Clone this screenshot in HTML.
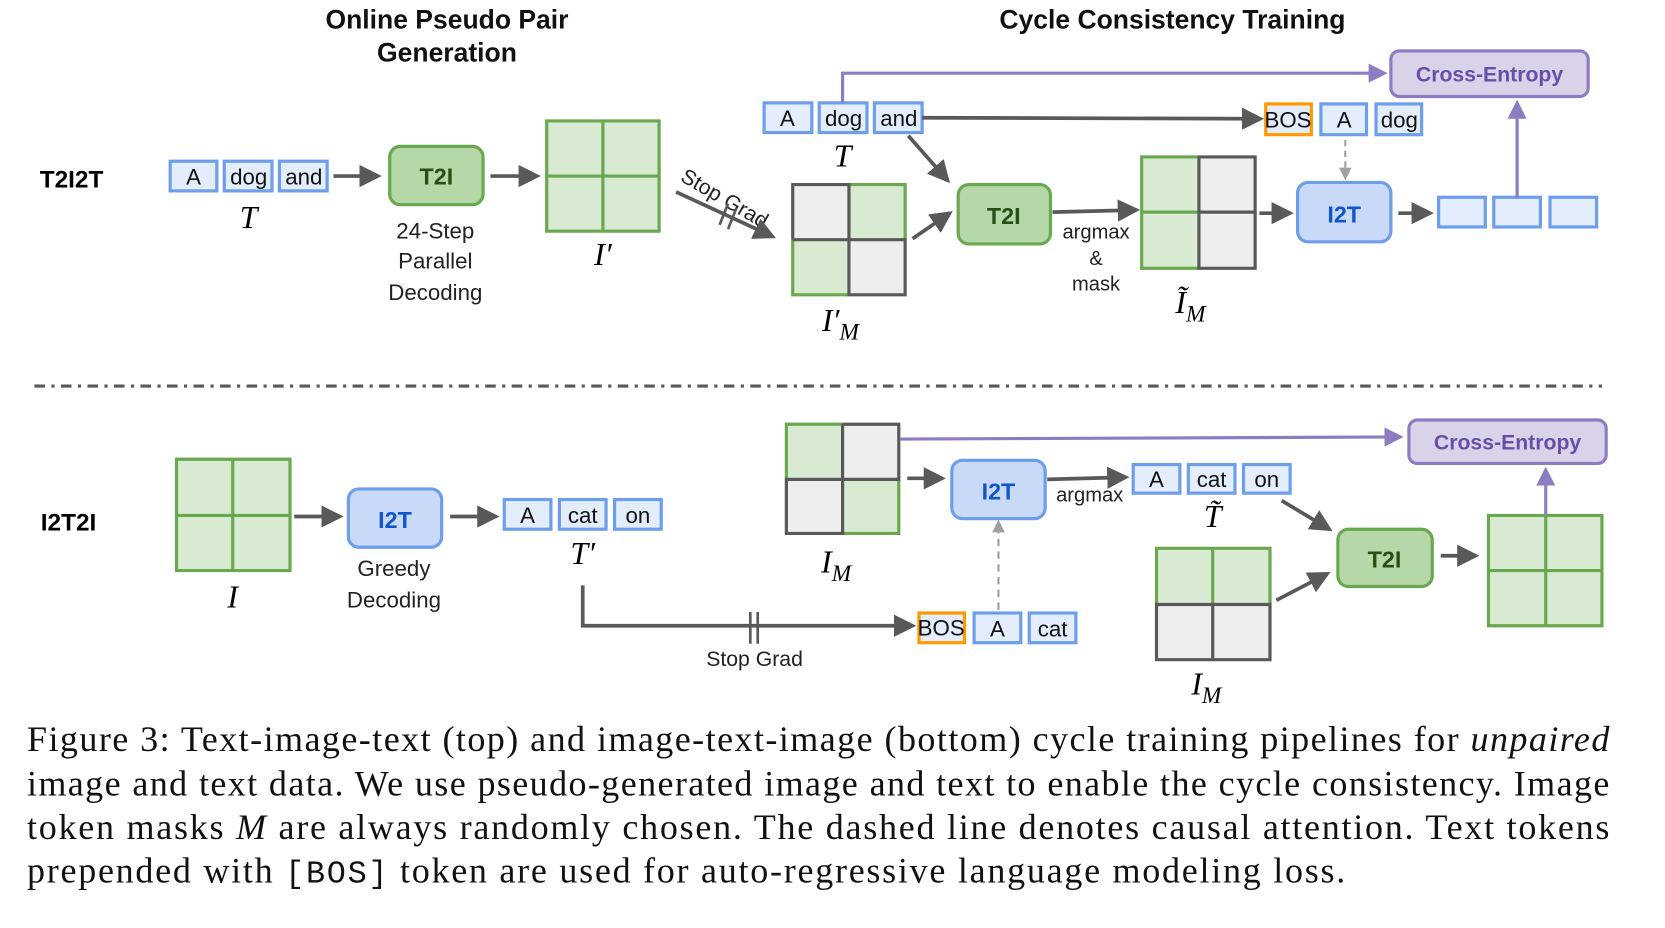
<!DOCTYPE html>
<html><head><meta charset="utf-8"><style>
html,body{margin:0;padding:0;background:#fff;width:1665px;height:928px;overflow:hidden}
svg{display:block}
.s{font-family:"Liberation Sans",sans-serif}
.m{font-family:"Liberation Serif",serif;font-style:italic}
.tk{fill:#e3edfb;stroke:#6d9eeb;stroke-width:3}
.bos{fill:#e3edfb;stroke:#ff9900;stroke-width:3}
.tt{font-family:"Liberation Sans",sans-serif;font-size:21px;fill:#111;text-anchor:middle}
.g{fill:#d9ead3}.y{fill:#eeeeee}
.ar{stroke:#595959;stroke-width:3.5;fill:none}
.pu{stroke:#8e7cc3;stroke-width:3;fill:none}
</style></head><body>
<svg width="1665" height="928" viewBox="0 0 1569 875" xmlns="http://www.w3.org/2000/svg">
<defs>
<marker id="a" markerWidth="6" markerHeight="6" refX="5" refY="3" orient="auto" markerUnits="strokeWidth"><path d="M0,0 L6,3 L0,6 z" fill="#595959"/></marker>
<marker id="p" markerWidth="6" markerHeight="6" refX="5" refY="3" orient="auto" markerUnits="strokeWidth"><path d="M0,0 L6,3 L0,6 z" fill="#8e7cc3"/></marker>
<marker id="d" markerWidth="6" markerHeight="6" refX="5" refY="3" orient="auto" markerUnits="strokeWidth"><path d="M0,0 L6,3 L0,6 z" fill="#a0a0a0"/></marker>
</defs>
<g class="s" font-weight="bold" font-size="25" text-anchor="middle" fill="#111">
<text x="421" y="27">Online Pseudo Pair</text>
<text x="421" y="58">Generation</text>
<text x="1105" y="27">Cycle Consistency Training</text>
</g>
<text class="s" x="37" y="177" font-size="23" font-weight="bold">T2I2T</text>
<text class="s" x="38" y="500" font-size="23" font-weight="bold">I2T2I</text>

<!-- top row -->
<rect class="tk" x="160" y="152" width="44" height="28"/><text class="tt" x="182" y="174">A</text>
<rect class="tk" x="211" y="152" width="45" height="28"/><text class="tt" x="234" y="174">dog</text>
<rect class="tk" x="263" y="152" width="45" height="28"/><text class="tt" x="286" y="174">and</text>
<text class="m" x="234" y="215" font-size="30" text-anchor="middle">T</text>
<line class="ar" x1="314" y1="166" x2="356" y2="166" marker-end="url(#a)"/>
<rect x="367" y="138" width="88" height="55" rx="10" fill="#b6d7a8" stroke="#6aa84f" stroke-width="3"/>
<text class="s" x="411" y="174" font-size="22" font-weight="bold" fill="#274e13" text-anchor="middle">T2I</text>
<g class="s" font-size="21" text-anchor="middle" fill="#222"><text x="410" y="225">24-Step</text><text x="410" y="253">Parallel</text><text x="410" y="283">Decoding</text></g>
<line class="ar" x1="462" y1="166" x2="506" y2="166" marker-end="url(#a)"/>
<g><rect class="g" x="515" y="114" width="106" height="104"/><path d="M515,114h106v104h-106z M568,114v104 M515,166h106" stroke="#6aa84f" stroke-width="3" fill="none"/></g>
<text class="m" x="568" y="250" font-size="30" text-anchor="middle">I′</text>
<text class="s" x="640" y="170" font-size="20" transform="rotate(30 640 170)" fill="#222">Stop Grad</text>
<line class="ar" x1="637" y1="181" x2="728" y2="223" marker-end="url(#a)"/>
<path d="M678,212 L686,192 M686,216 L694,196" stroke="#595959" stroke-width="2.5"/>
<!-- I'_M -->
<rect class="y" x="747" y="174" width="53" height="52"/><rect class="g" x="800" y="174" width="53" height="52"/>
<rect class="g" x="747" y="226" width="53" height="52"/><rect class="y" x="800" y="226" width="53" height="52"/>
<path d="M800,174h53v52 M747,226v52h53" stroke="#6aa84f" stroke-width="3" fill="none"/>
<path d="M747,226v-52h53v104h53v-52h-106" stroke="#595959" stroke-width="3" fill="none"/>
<text class="m" x="792" y="312" font-size="30" text-anchor="middle">I′<tspan font-size="22" dy="8">M</tspan></text>
<line class="ar" x1="860" y1="225" x2="895" y2="201" marker-end="url(#a)"/>
<!-- top T tokens -->
<rect class="tk" x="720" y="97" width="45" height="28"/><text class="tt" x="742" y="119">A</text>
<rect class="tk" x="772" y="97" width="45" height="28"/><text class="tt" x="795" y="119">dog</text>
<rect class="tk" x="824" y="97" width="45" height="28"/><text class="tt" x="847" y="119">and</text>
<text class="m" x="794" y="157" font-size="30" text-anchor="middle">T</text>
<path class="pu" d="M794,97 V69 H1305" marker-end="url(#p)"/>
<rect x="1311" y="48" width="186" height="43" rx="8" fill="#d9d2e9" stroke="#8e7cc3" stroke-width="3"/>
<text class="s" x="1404" y="77" font-size="20" font-weight="bold" fill="#674ea7" text-anchor="middle">Cross-Entropy</text>
<line class="ar" x1="869" y1="111" x2="1188" y2="112" marker-end="url(#a)"/>
<rect class="bos" x="1193" y="98" width="43" height="29"/><text class="tt" x="1214" y="120" font-size="18">BOS</text>
<rect class="tk" x="1245" y="98" width="43" height="29"/><text class="tt" x="1267" y="120">A</text>
<rect class="tk" x="1297" y="98" width="43" height="29"/><text class="tt" x="1319" y="120">dog</text>
<line class="ar" x1="856" y1="128" x2="893" y2="170" marker-end="url(#a)"/>
<rect x="903" y="174" width="87" height="56" rx="10" fill="#b6d7a8" stroke="#6aa84f" stroke-width="3"/>
<text class="s" x="946" y="211" font-size="22" font-weight="bold" fill="#274e13" text-anchor="middle">T2I</text>
<line class="ar" x1="992" y1="200" x2="1071" y2="198" marker-end="url(#a)"/>
<g class="s" font-size="19" text-anchor="middle" fill="#222"><text x="1033" y="225">argmax</text><text x="1033" y="250">&amp;</text><text x="1033" y="274">mask</text></g>
<rect class="g" x="1076" y="148" width="54" height="105"/><rect class="y" x="1130" y="148" width="53" height="105"/>
<path d="M1130,148h-54v105h54 M1076,200h54" stroke="#6aa84f" stroke-width="3" fill="none"/>
<path d="M1130,148h53v105h-53z M1130,200h53" stroke="#595959" stroke-width="3" fill="none"/>
<text class="m" x="1122" y="295" font-size="30" text-anchor="middle">Ĩ<tspan font-size="22" dy="8">M</tspan></text>
<line class="ar" x1="1187" y1="201" x2="1216" y2="201" marker-end="url(#a)"/>
<rect x="1223" y="172" width="88" height="56" rx="10" fill="#c9daf8" stroke="#6d9eeb" stroke-width="3"/>
<text class="s" x="1267" y="210" font-size="22" font-weight="bold" fill="#1155cc" text-anchor="middle">I2T</text>
<line x1="1268" y1="132" x2="1268" y2="168" stroke="#a0a0a0" stroke-width="2" stroke-dasharray="6,4" marker-end="url(#d)"/>
<line class="ar" x1="1318" y1="201" x2="1348" y2="201" marker-end="url(#a)"/>
<rect class="tk" x="1356" y="186" width="44" height="28"/><rect class="tk" x="1408" y="186" width="44" height="28"/><rect class="tk" x="1461" y="186" width="44" height="28"/>
<line class="pu" x1="1430" y1="186" x2="1430" y2="97" marker-end="url(#p)"/>

<line x1="32" y1="364" x2="1510" y2="364" stroke="#595959" stroke-width="3" stroke-dasharray="10,6,3,6"/>

<!-- bottom -->
<rect class="g" x="166" y="433" width="107" height="105"/>
<path d="M166,433h107v105h-107z M219,433v105 M166,486h107" stroke="#6aa84f" stroke-width="3" fill="none"/>
<text class="m" x="219" y="573" font-size="30" text-anchor="middle">I</text>
<line class="ar" x1="277" y1="487" x2="320" y2="487" marker-end="url(#a)"/>
<rect x="328" y="461" width="88" height="55" rx="10" fill="#c9daf8" stroke="#6d9eeb" stroke-width="3"/>
<text class="s" x="372" y="498" font-size="22" font-weight="bold" fill="#1155cc" text-anchor="middle">I2T</text>
<g class="s" font-size="21" text-anchor="middle" fill="#222"><text x="371" y="543">Greedy</text><text x="371" y="573">Decoding</text></g>
<line class="ar" x1="424" y1="487" x2="467" y2="487" marker-end="url(#a)"/>
<rect class="tk" x="475" y="471" width="44" height="28"/><text class="tt" x="497" y="493">A</text>
<rect class="tk" x="527" y="471" width="44" height="28"/><text class="tt" x="549" y="493">cat</text>
<rect class="tk" x="579" y="471" width="44" height="28"/><text class="tt" x="601" y="493">on</text>
<text class="m" x="549" y="532" font-size="30" text-anchor="middle">T′</text>
<path class="ar" d="M549,552 V590 H860" marker-end="url(#a)"/>
<path d="M707,577v30 M714,577v30" stroke="#595959" stroke-width="2.5"/>
<text class="s" x="711" y="628" font-size="20" text-anchor="middle" fill="#222">Stop Grad</text>
<rect class="bos" x="866" y="578" width="43" height="28"/><text class="tt" x="887" y="599" font-size="18">BOS</text>
<rect class="tk" x="918" y="578" width="44" height="28"/><text class="tt" x="940" y="600">A</text>
<rect class="tk" x="970" y="578" width="44" height="28"/><text class="tt" x="992" y="600">cat</text>
<line x1="941" y1="575" x2="941" y2="492" stroke="#a0a0a0" stroke-width="2" stroke-dasharray="7,5" marker-end="url(#d)"/>
<rect class="g" x="741" y="400" width="53" height="52"/><rect class="y" x="794" y="400" width="53" height="52"/>
<rect class="y" x="741" y="452" width="53" height="51"/><rect class="g" x="794" y="452" width="53" height="51"/>
<path d="M794,400h-53v52 M847,452v51h-53" stroke="#6aa84f" stroke-width="3" fill="none"/>
<path d="M794,400h53v52h-106v51h53v-103" stroke="#595959" stroke-width="3" fill="none"/>
<text class="m" x="788" y="540" font-size="30" text-anchor="middle">I<tspan font-size="22" dy="8">M</tspan></text>
<line class="pu" x1="848" y1="414" x2="1320" y2="412" marker-end="url(#p)"/>
<rect x="1328" y="396" width="186" height="41" rx="8" fill="#d9d2e9" stroke="#8e7cc3" stroke-width="3"/>
<text class="s" x="1421" y="424" font-size="20" font-weight="bold" fill="#674ea7" text-anchor="middle">Cross-Entropy</text>
<line class="ar" x1="855" y1="451" x2="888" y2="451" marker-end="url(#a)"/>
<rect x="897" y="434" width="88" height="55" rx="10" fill="#c9daf8" stroke="#6d9eeb" stroke-width="3"/>
<text class="s" x="941" y="471" font-size="22" font-weight="bold" fill="#1155cc" text-anchor="middle">I2T</text>
<line class="ar" x1="987" y1="452" x2="1061" y2="450" marker-end="url(#a)"/>
<text class="s" x="1027" y="473" font-size="19" text-anchor="middle" fill="#222">argmax</text>
<rect class="tk" x="1068" y="438" width="44" height="27"/><text class="tt" x="1090" y="459">A</text>
<rect class="tk" x="1120" y="438" width="44" height="27"/><text class="tt" x="1142" y="459">cat</text>
<rect class="tk" x="1172" y="438" width="44" height="27"/><text class="tt" x="1194" y="459">on</text>
<text class="m" x="1143" y="497" font-size="30" text-anchor="middle">T̃</text>
<line class="ar" x1="1208" y1="472" x2="1253" y2="499" marker-end="url(#a)"/>
<rect class="g" x="1090" y="517" width="107" height="53"/><rect class="y" x="1090" y="570" width="107" height="52"/>
<path d="M1090,570v-53h107v53 M1143,517v53" stroke="#6aa84f" stroke-width="3" fill="none"/>
<path d="M1090,570h107v52h-107z M1143,570v52" stroke="#595959" stroke-width="3" fill="none"/>
<text class="m" x="1137" y="655" font-size="30" text-anchor="middle">I<tspan font-size="22" dy="8">M</tspan></text>
<line class="ar" x1="1203" y1="566" x2="1251" y2="541" marker-end="url(#a)"/>
<rect x="1261" y="499" width="89" height="54" rx="10" fill="#b6d7a8" stroke="#6aa84f" stroke-width="3"/>
<text class="s" x="1305" y="535" font-size="22" font-weight="bold" fill="#274e13" text-anchor="middle">T2I</text>
<line class="ar" x1="1358" y1="524" x2="1391" y2="524" marker-end="url(#a)"/>
<rect class="g" x="1403" y="486" width="107" height="104"/>
<path d="M1403,486h107v104h-107z M1457,486v104 M1403,538h107" stroke="#6aa84f" stroke-width="3" fill="none"/>
<line class="pu" x1="1457" y1="486" x2="1457" y2="443" marker-end="url(#p)"/>

<!-- caption -->
<g font-family="Liberation Serif, serif" font-size="34" fill="#111">
<text x="25" y="708" textLength="1492" lengthAdjust="spacing">Figure 3: Text-image-text (top) and image-text-image (bottom) cycle training pipelines for <tspan font-style="italic">unpaired</tspan></text>
<text x="25" y="750" textLength="1492" lengthAdjust="spacing">image and text data. We use pseudo-generated image and text to enable the cycle consistency. Image</text>
<text x="25" y="791" textLength="1492" lengthAdjust="spacing">token masks <tspan font-style="italic">M</tspan> are always randomly chosen. The dashed line denotes causal attention. Text tokens</text>
<text x="25" y="832" textLength="1243" lengthAdjust="spacing">prepended with <tspan font-family="Liberation Mono, monospace" font-size="30">[BOS]</tspan> token are used for auto-regressive language modeling loss.</text>
</g>
</svg>
</body></html>
